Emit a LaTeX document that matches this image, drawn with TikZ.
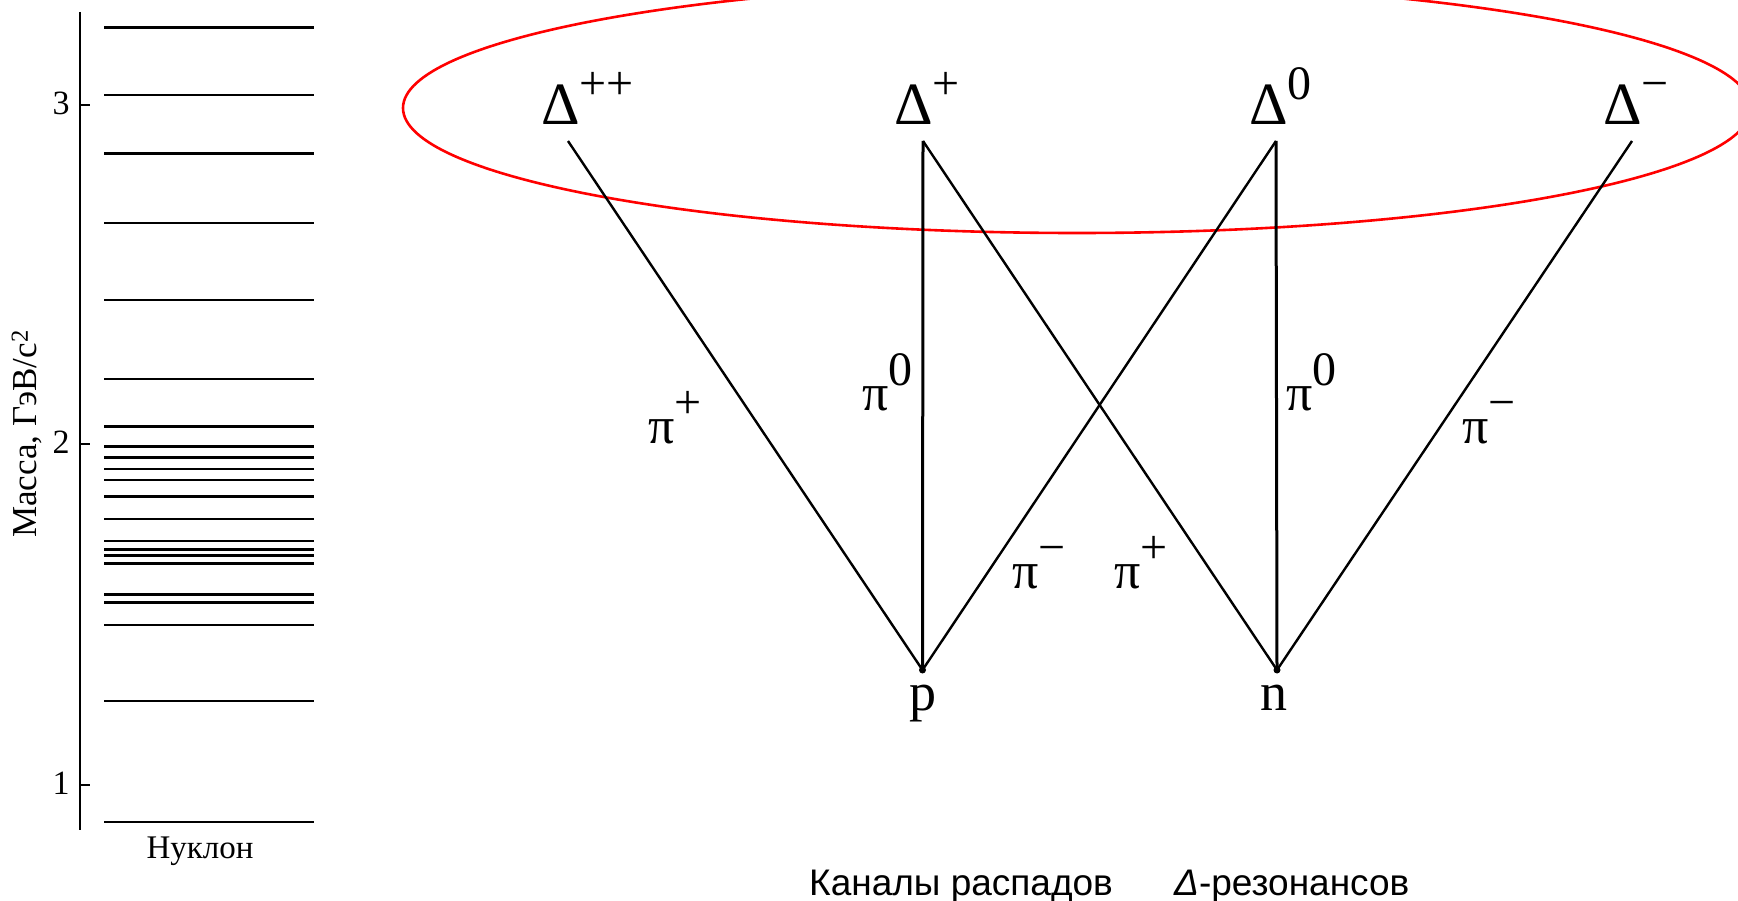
\documentclass[tikz,border=0pt]{standalone}
\usepackage{fontspec}
\setmainfont{Liberation Serif}
\newfontfamily\capfont{Liberation Sans}
\newcommand\fsz[1]{\fontsize{#1}{#1}\selectfont}
\newcommand\sps[1]{\raisebox{25pt}{\fsz{48}#1}}
\begin{document}
\begin{tikzpicture}[x=1pt,y=-1pt,
  lvl/.style={line width=2.6pt},
  axisline/.style={line width=2.6pt},
  link/.style={line width=2.4pt},
  vlink/.style={line width=3pt},
  ticklbl/.style={inner sep=0pt,font=\fsz{34}},
  dlbl/.style={inner sep=0pt,anchor=base west,font=\fsz{60}},
  plbl/.style={inner sep=0pt,anchor=base west,font=\fsz{52}},
  nlbl/.style={inner sep=0pt,anchor=base,font=\fsz{54}},
  dot/.style={circle,fill=black,inner sep=0pt,minimum size=7pt},
  caption/.style={inner sep=0pt,anchor=base west,font=\capfont\fsz{37}},
  oval/.style={draw=red,line width=2.6pt}]
\useasboundingbox (0,0) rectangle (1738,901);
\clip (0,0) rectangle (1738,901);
% left panel: nucleon levels
\draw[axisline] (80,12) -- (80,830);
\foreach \ty/\tl in {105/3,444/2,785/1}{
  \draw[axisline] (80,\ty) -- (90,\ty);
  \node[ticklbl] (tick\tl) at (61,\ty-2) {\tl};
}
\foreach \y in {27.5,95,153.5,223,300,379,426.7,446.7,457.7,469,480,496.7,519,541,549.7,555.3,563.7,594.3,602.7,625,701,822}
  \draw[lvl] (104,\y) -- (314,\y);
\node[inner sep=0pt,rotate=90,font=\fsz{35}] (ylab) at (27,434) {Масса, ГэВ/c\textsuperscript{2}};
\node[inner sep=0pt,font=\fsz{33}] (nucl) at (200,851) {Нуклон};
% right panel
\draw[oval] (1077,108) ellipse [x radius=674, y radius=125];
\coordinate (D1) at (568,141);
\coordinate (D2) at (923,141);
\coordinate (D3) at (1276,141);
\coordinate (D4) at (1632,141);
\node[dot] (p) at (922.5,670) {};
\node[dot] (n) at (1277,670) {};
\draw[link] (D1) -- (p.center);
\draw[vlink] (D2) -- (p.center);
\draw[link] (D2) -- (n.center);
\draw[link] (D3) -- (p.center);
\draw[vlink] (D3) -- (n.center);
\draw[link] (D4) -- (n.center);
\node[dlbl] (Dpp) at (541,125) {Δ\sps{++}};
\node[dlbl] (Dp) at (894,125) {Δ\sps{+}};
\node[dlbl] (D0) at (1249,125) {Δ\sps{0}};
\node[dlbl] (Dm) at (1603,125) {Δ\sps{−}};
\node[plbl] (pi1) at (648,443) {π\sps{+}};
\node[plbl] (pi2) at (862,410) {π\sps{0}};
\node[plbl] (pi3) at (1012,588) {π\sps{−}};
\node[plbl] (pi4) at (1114,588) {π\sps{+}};
\node[plbl] (pi5) at (1286,410) {π\sps{0}};
\node[plbl] (pi6) at (1462,443) {π\sps{−}};
\node[nlbl] (plab) at (923,710) {p};
\node[nlbl] (nlab) at (1274,710) {n};
\node[caption] (cap1) at (809,895) {Каналы распадов};
\node[caption] (cap2) at (1174,895) {\textit{Δ}-резонансов};
\end{tikzpicture}
\end{document}
